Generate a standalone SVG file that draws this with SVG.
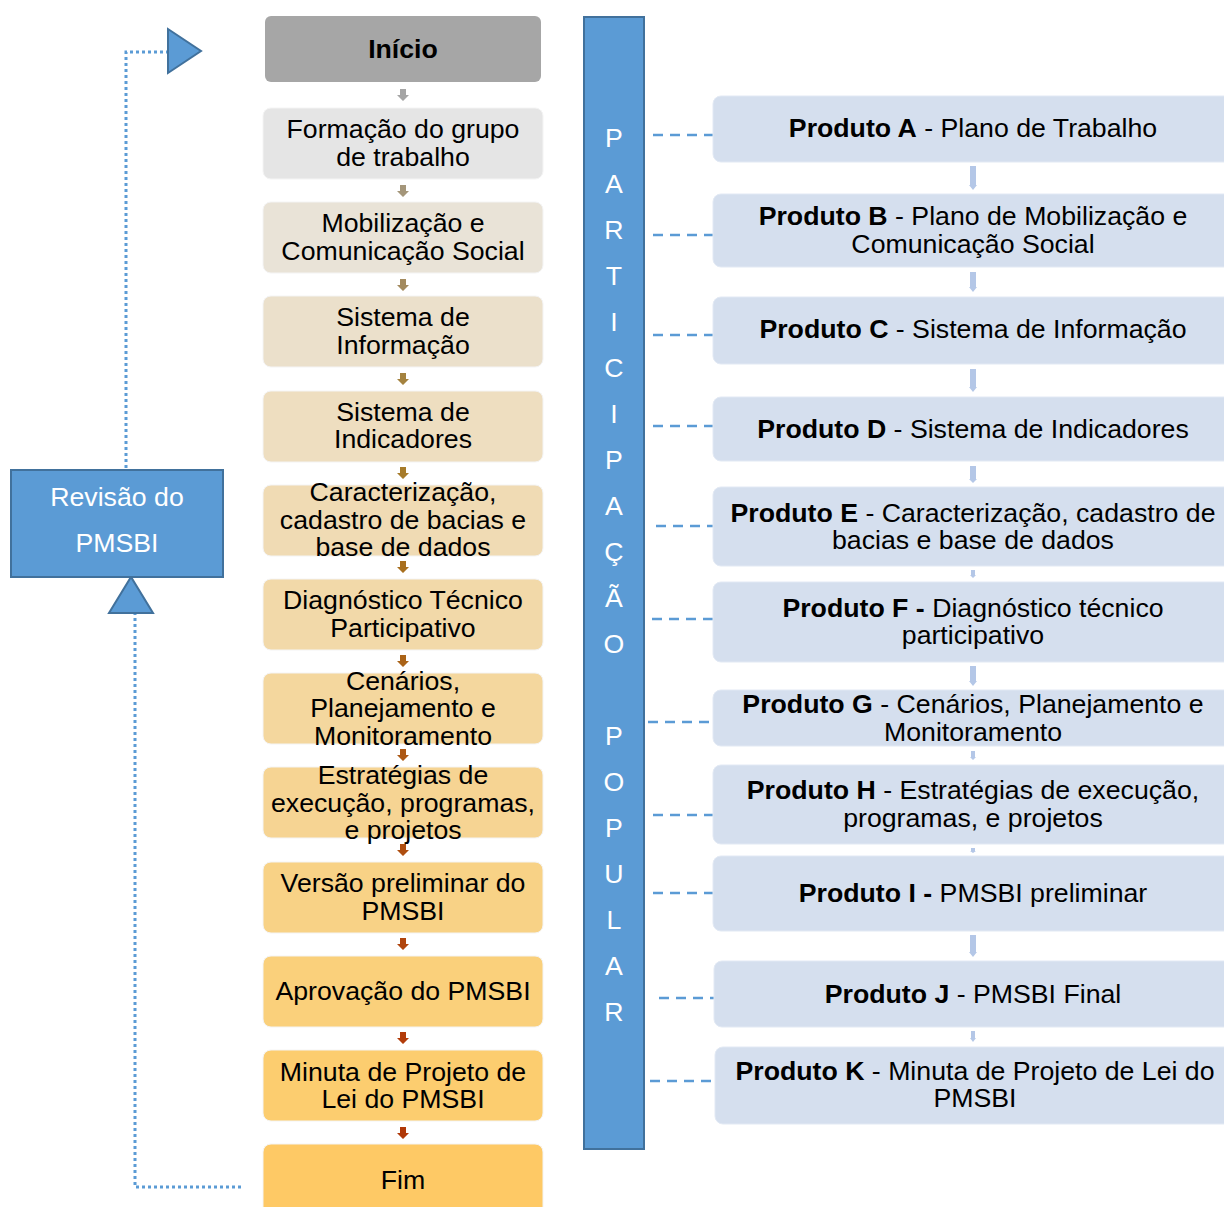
<svg xmlns="http://www.w3.org/2000/svg" width="1224" height="1207" viewBox="0 0 1224 1207">
<style>
text{font-family:"Liberation Sans",Arial,sans-serif;font-size:26.7px;fill:#000;text-anchor:middle}
.b{font-weight:bold}
.w{fill:#fff}
.lb{stroke:#F4F4F4;stroke-width:1}
.pb{fill:#D5DFEE;stroke:#E2E9F4;stroke-width:1}
.blue{fill:#5B9BD5;stroke:#41719C;stroke-width:2}
.dot{fill:none;stroke:#5B9BD5;stroke-width:3;stroke-dasharray:3 3}
.dash{fill:none;stroke:#5B9BD5;stroke-width:2.4;stroke-dasharray:10 7}
.ra{fill:#B4C7E7}
</style>
<defs>
<path id="la" d="M-3,0 H3 V6 H6 L0,12 L-6,6 H-3 Z"/>
</defs>

<g id="connectors">
<polyline class="dot" points="126,468 126,52 168,52"/>
<polygon class="blue" points="168,29 168,73 201,51"/>
<polyline class="dot" points="241,1187 135,1187 135,614"/>
<polygon class="blue" points="109,613 153,613 131,577"/>
<use href="#la" x="403" y="89" fill="#A5A5A5"/>
<use href="#la" x="403" y="185" fill="#A4967A"/>
<use href="#la" x="403" y="279" fill="#A38A5E"/>
<use href="#la" x="403" y="373" fill="#A4823F"/>
<use href="#la" x="403" y="467" fill="#A67B2A"/>
<use href="#la" x="403" y="561" fill="#A86F1E"/>
<use href="#la" x="403" y="655" fill="#AA6318"/>
<use href="#la" x="403" y="749" fill="#AC5814"/>
<use href="#la" x="403" y="844" fill="#AE4E10"/>
<use href="#la" x="403" y="938" fill="#B0440C"/>
<use href="#la" x="403" y="1032" fill="#B23C0A"/>
<use href="#la" x="403" y="1127" fill="#B03808"/>
<line class="dash" x1="653" y1="135" x2="728" y2="135"/>
<line class="dash" x1="653" y1="235" x2="728" y2="235"/>
<line class="dash" x1="653" y1="335" x2="735" y2="335"/>
<line class="dash" x1="653" y1="426" x2="728" y2="426"/>
<line class="dash" x1="656" y1="526" x2="731" y2="526"/>
<line class="dash" x1="652" y1="619" x2="728" y2="619"/>
<line class="dash" x1="648" y1="722" x2="725" y2="722"/>
<line class="dash" x1="653" y1="815" x2="728" y2="815"/>
<line class="dash" x1="653" y1="893" x2="728" y2="893"/>
<line class="dash" x1="659" y1="998" x2="735" y2="998"/>
<line class="dash" x1="650" y1="1081" x2="727" y2="1081"/>
<path class="ra" d="M970,166 H976 V185 H977 L973,190 L969,185 H970 Z"/>
<path class="ra" d="M970,272 H976 V287 H977 L973,292 L969,287 H970 Z"/>
<path class="ra" d="M970,369 H976 V387 H977 L973,392 L969,387 H970 Z"/>
<path class="ra" d="M970,466 H976 V479 H977 L973,483 L969,479 H970 Z"/>
<path class="ra" d="M971,570 H975 V575 H976 L973,578 L970,575 H971 Z"/>
<path class="ra" d="M970,666 H976 V681 H977 L973,686 L969,681 H970 Z"/>
<path class="ra" d="M971,751 H975 V757 H976 L973,760 L970,757 H971 Z"/>
<path class="ra" d="M971,848 H975 V851 H976 L973,853 L970,851 H971 Z"/>
<path class="ra" d="M970,935 H976 V952 H977 L973,957 L969,952 H970 Z"/>
<path class="ra" d="M971,1031 H975 V1038 H976 L973,1042 L970,1038 H971 Z"/>
</g>

<g id="revisao">
<rect class="blue" x="11" y="470" width="212" height="107"/>
<text class="w" x="117" y="506">Revisão do</text>
<text class="w" x="117" y="552">PMSBI</text>
</g>

<g id="inicio">
<rect x="265" y="16" width="276" height="66" rx="6" fill="#A6A6A6"/>
<text class="b" x="403" y="58">Início</text>
</g>
<g id="formacao">
<rect class="lb" x="263" y="108" width="280" height="71" rx="8" fill="#E5E5E5"/>
<text x="403" y="138">Formação do grupo</text>
<text x="403" y="166">de trabalho</text>
</g>
<g id="mobilizacao">
<rect class="lb" x="263" y="202" width="280" height="71" rx="8" fill="#E9E3D7"/>
<text x="403" y="232">Mobilização e</text>
<text x="403" y="260">Comunicação Social</text>
</g>
<g id="sist-info">
<rect class="lb" x="263" y="296" width="280" height="71" rx="8" fill="#EBE0CB"/>
<text x="403" y="326">Sistema de</text>
<text x="403" y="354">Informação</text>
</g>
<g id="sist-ind">
<rect class="lb" x="263" y="391" width="280" height="71" rx="8" fill="#EEDEC0"/>
<text x="403" y="421">Sistema de</text>
<text x="403" y="448">Indicadores</text>
</g>
<g id="caracterizacao">
<rect class="lb" x="263" y="485" width="280" height="71" rx="8" fill="#F0DBB4"/>
<text x="403" y="501">Caracterização,</text>
<text x="403" y="529">cadastro de bacias e</text>
<text x="403" y="556">base de dados</text>
</g>
<g id="diagnostico">
<rect class="lb" x="263" y="579" width="280" height="71" rx="8" fill="#F2D9A9"/>
<text x="403" y="609">Diagnóstico Técnico</text>
<text x="403" y="637">Participativo</text>
</g>
<g id="cenarios">
<rect class="lb" x="263" y="673" width="280" height="71" rx="8" fill="#F4D79E"/>
<text x="403" y="690">Cenários,</text>
<text x="403" y="717">Planejamento e</text>
<text x="403" y="745">Monitoramento</text>
</g>
<g id="estrategias">
<rect class="lb" x="263" y="767" width="280" height="71" rx="8" fill="#F6D493"/>
<text x="403" y="784">Estratégias de</text>
<text x="403" y="812">execução, programas,</text>
<text x="403" y="839">e projetos</text>
</g>
<g id="versao">
<rect class="lb" x="263" y="862" width="280" height="71" rx="8" fill="#F8D286"/>
<text x="403" y="892">Versão preliminar do</text>
<text x="403" y="920">PMSBI</text>
</g>
<g id="aprovacao">
<rect class="lb" x="263" y="956" width="280" height="71" rx="8" fill="#FAD07B"/>
<text x="403" y="1000">Aprovação do PMSBI</text>
</g>
<g id="minuta">
<rect class="lb" x="263" y="1050" width="280" height="71" rx="8" fill="#FCCD6F"/>
<text x="403" y="1081">Minuta de Projeto de</text>
<text x="403" y="1108">Lei do PMSBI</text>
</g>
<g id="fim">
<rect class="lb" x="263" y="1144" width="280" height="90" rx="8" fill="#FEC965"/>
<text x="403" y="1189">Fim</text>
</g>

<g id="participacao">
<rect class="blue" x="584" y="17" width="60" height="1132"/>
<text class="w" x="614" y="147">P</text>
<text class="w" x="614" y="193">A</text>
<text class="w" x="614" y="239">R</text>
<text class="w" x="614" y="285">T</text>
<text class="w" x="614" y="331">I</text>
<text class="w" x="614" y="377">C</text>
<text class="w" x="614" y="423">I</text>
<text class="w" x="614" y="469">P</text>
<text class="w" x="614" y="515">A</text>
<text class="w" x="614" y="561">Ç</text>
<text class="w" x="614" y="607">Ã</text>
<text class="w" x="614" y="653">O</text>
<text class="w" x="614" y="745">P</text>
<text class="w" x="614" y="791">O</text>
<text class="w" x="614" y="837">P</text>
<text class="w" x="614" y="883">U</text>
<text class="w" x="614" y="929">L</text>
<text class="w" x="614" y="975">A</text>
<text class="w" x="614" y="1021">R</text>
</g>

<g id="produto-a">
<rect class="pb" x="713" y="96" width="530" height="66" rx="8"/>
<text x="973" y="137"><tspan class="b">Produto A</tspan> - Plano de Trabalho</text>
</g>
<g id="produto-b">
<rect class="pb" x="713" y="194" width="530" height="73" rx="8"/>
<text x="973" y="225"><tspan class="b">Produto B</tspan> - Plano de Mobilização e</text>
<text x="973" y="253">Comunicação Social</text>
</g>
<g id="produto-c">
<rect class="pb" x="713" y="297" width="530" height="67" rx="8"/>
<text x="973" y="338"><tspan class="b">Produto C</tspan> - Sistema de Informação</text>
</g>
<g id="produto-d">
<rect class="pb" x="713" y="397" width="530" height="64" rx="8"/>
<text x="973" y="438"><tspan class="b">Produto D</tspan> - Sistema de Indicadores</text>
</g>
<g id="produto-e">
<rect class="pb" x="713" y="487" width="530" height="79" rx="8"/>
<text x="973" y="522"><tspan class="b">Produto E</tspan> - Caracterização, cadastro de</text>
<text x="973" y="549">bacias e base de dados</text>
</g>
<g id="produto-f">
<rect class="pb" x="713" y="582" width="530" height="80" rx="8"/>
<text x="973" y="617"><tspan class="b">Produto F -</tspan> Diagnóstico técnico</text>
<text x="973" y="644">participativo</text>
</g>
<g id="produto-g">
<rect class="pb" x="713" y="690" width="530" height="56" rx="8"/>
<text x="973" y="713"><tspan class="b">Produto G</tspan> - Cenários, Planejamento e</text>
<text x="973" y="741">Monitoramento</text>
</g>
<g id="produto-h">
<rect class="pb" x="713" y="765" width="530" height="79" rx="8"/>
<text x="973" y="799"><tspan class="b">Produto H</tspan> - Estratégias de execução,</text>
<text x="973" y="827">programas, e projetos</text>
</g>
<g id="produto-i">
<rect class="pb" x="713" y="856" width="530" height="75" rx="8"/>
<text x="973" y="902"><tspan class="b">Produto I -</tspan> PMSBI preliminar</text>
</g>
<g id="produto-j">
<rect class="pb" x="714" y="961" width="530" height="66" rx="8"/>
<text x="973" y="1003"><tspan class="b">Produto J</tspan> - PMSBI Final</text>
</g>
<g id="produto-k">
<rect class="pb" x="715" y="1047" width="530" height="77" rx="8"/>
<text x="975" y="1080"><tspan class="b">Produto K</tspan> - Minuta de Projeto de Lei do</text>
<text x="975" y="1107">PMSBI</text>
</g>
</svg>
